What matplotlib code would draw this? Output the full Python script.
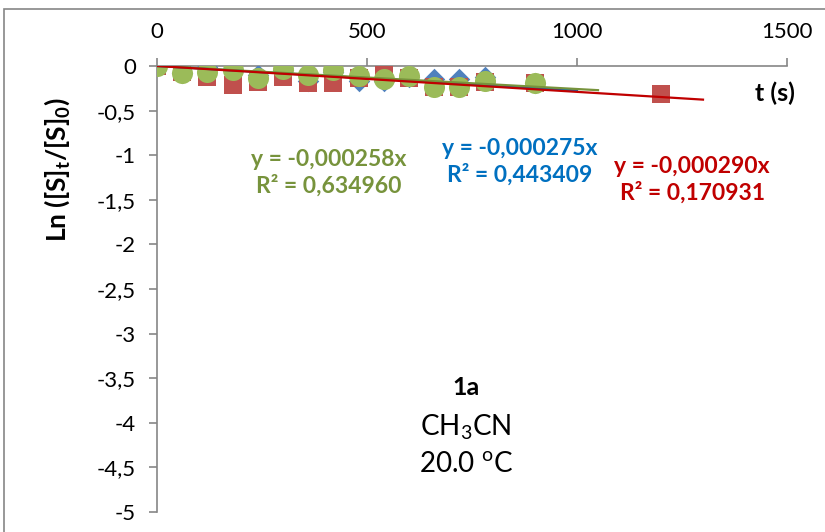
import numpy as np
import matplotlib.pyplot as plt
from matplotlib.patches import Rectangle

plt.rcParams['font.family'] = ['Lato', 'DejaVu Sans']

# data
t = [0, 60, 120, 180, 240, 300, 360, 420, 480, 540, 600, 660, 720, 780, 900]
t_red = t + [1200]
ln_blue = [0, -0.08, -0.01, -0.05, -0.10, -0.05, -0.17, -0.07, -0.17, -0.17, -0.12, -0.15, -0.15, -0.12, -0.19]
ln_red = [0, -0.07, -0.12, -0.21, -0.18, -0.12, -0.19, -0.19, -0.14, -0.10, -0.13, -0.23, -0.24, -0.18, -0.19, -0.31]
ln_green = [0, -0.08, -0.07, -0.05, -0.13, -0.03, -0.10, -0.04, -0.11, -0.15, -0.11, -0.23, -0.24, -0.17, -0.19]

slope_blue, slope_red, slope_green = -0.000275, -0.000290, -0.000258
r2_blue, r2_red, r2_green = '0,443409', '0,170931', '0,634960'
tend_blue, tend_red, tend_green = 1000, 1300, 1050

xticks = [0, 500, 1000, 1500]
yticks = [0, -0.5, -1, -1.5, -2, -2.5, -3, -3.5, -4, -4.5, -5]

c_blue, c_red, c_green = '#4F81BD', '#C0504D', '#9BBB59'
tc_blue, tc_red, tc_green = '#0070C0', '#C00000', '#77933C'

fig = plt.figure(figsize=(8.25, 5.32), dpi=100)
fig.patches.append(Rectangle((4 / 825, -0.1), 2, 1.1 - 9 / 532, transform=fig.transFigure,
                             fill=False, edgecolor='#868686', lw=1.2))
ax = fig.add_axes([157 / 825, 20 / 532, 630 / 825, 446 / 532])

ax.scatter(t, ln_blue, marker='D', s=120, color=c_blue, zorder=3, linewidths=0)
ax.scatter(t_red, ln_red, marker='s', s=180, color=c_red, zorder=4, linewidths=0)
ax.scatter(t, ln_green, marker='o', s=230, color=c_green, zorder=5, linewidths=0)

for s, tend, col in [(slope_blue, tend_blue, tc_blue), (slope_green, tend_green, tc_green),
                     (slope_red, tend_red, tc_red)]:
    xx = np.array([0, tend])
    ax.plot(xx, s * xx, color=col, lw=1.6, zorder=6)

ax.set_xlim(0, 1500)
ax.set_ylim(-5, 0)
ax.set_xticks(xticks)
ax.set_xticklabels([str(v) for v in xticks])
ax.set_yticks(yticks)
ax.set_yticklabels([('%g' % v).replace('.', ',') for v in yticks])
ax.xaxis.tick_top()
for sp in ['right', 'bottom']:
    ax.spines[sp].set_visible(False)
for sp in ['left', 'top']:
    ax.spines[sp].set_color('#868686')
    ax.spines[sp].set_linewidth(1.2)
ax.tick_params(axis='both', colors='#868686', labelcolor='black', labelsize=16, length=6, width=1.2)
ax.tick_params(axis='x', pad=11)
ax.tick_params(axis='y', pad=9)
for sp in ax.spines.values():
    sp.set_clip_on(False)

fig.text(775 / 825, 1 - 93 / 532, 't (s)', fontsize=18, fontweight='bold', ha='center', va='center')
fig.text(57 / 825, 1 - 170 / 532, r'Ln ([S]$_\mathregular{t}$/[S]$_\mathregular{0}$)', rotation=90,
         fontsize=19, fontweight='bold', ha='center', va='center')


def eq(x, y, s, r2, col):
    label = 'y = ' + ('%.6f' % s).replace('.', ',') + 'x\nR² = ' + r2
    fig.text(x / 825, 1 - y / 532, label, fontsize=16.5, fontweight='bold', color=col,
             ha='center', va='center', linespacing=1.25)


eq(329, 173, slope_green, r2_green, tc_green)
eq(520, 162, slope_blue, r2_blue, tc_blue)
eq(692, 180, slope_red, r2_red, tc_red)

fig.text(466 / 825, 1 - 395 / 532, '1a', fontsize=18, fontweight='bold', ha='center', va='baseline')
fig.text(466 / 825, 1 - 435 / 532, r'CH$_\mathregular{3}$CN', fontsize=20, ha='center', va='baseline')
fig.text(466 / 825, 1 - 473 / 532, r'20.0 $^\mathregular{o}$C', fontsize=20, ha='center', va='baseline')

fig.savefig('out.png', dpi=100)
